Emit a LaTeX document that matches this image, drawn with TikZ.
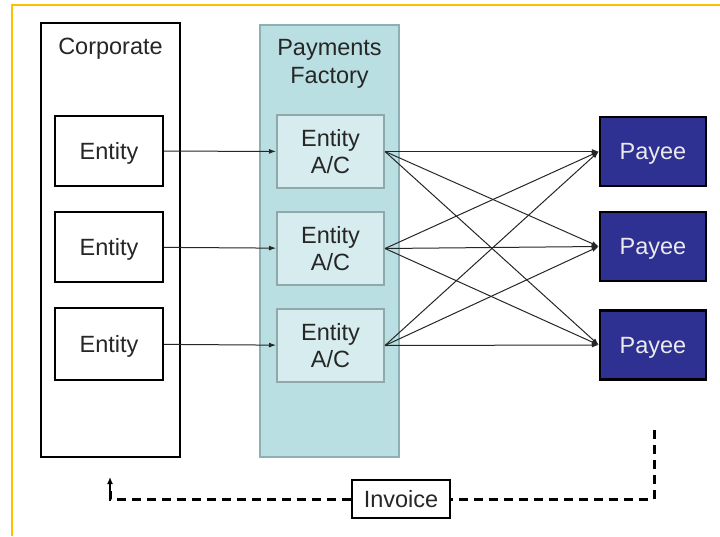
\documentclass[tikz,border=0pt]{standalone}
\usepackage{fontspec}
\setmainfont{Liberation Sans}
\usetikzlibrary{arrows.meta,positioning}
\definecolor{frameorange}{HTML}{FFC000}
\definecolor{pffill}{HTML}{BADFE3}
\definecolor{pfdraw}{HTML}{8EB0B4}
\definecolor{acfill}{HTML}{D6ECEF}
\definecolor{acdraw}{HTML}{8FA9AB}
\definecolor{payeeblue}{HTML}{2E3192}
\tikzset{
  txt/.style={font=\fontsize{23.5}{27}\selectfont, text=black!85, align=center, text depth=0pt},
  outerbox/.style={draw=black, line width=2pt, inner sep=0pt},
  entitybox/.style={draw=black, line width=2pt, fill=white, minimum width=108pt, minimum height=70pt, inner sep=0pt, txt},
  acbox/.style={draw=acdraw, line width=2pt, fill=acfill, minimum width=107pt, minimum height=73pt, inner sep=0pt, txt},
  payeebox/.style={draw=black, line width=2.5pt, fill=payeeblue, minimum width=106pt, minimum height=69pt, inner sep=0pt, txt, text=white!92!black},
  flow/.style={-{Latex[length=7pt,width=5pt]}, line width=1pt, draw=black!85},
  dashflow/.style={dashed, dash pattern=on 9pt off 6pt, line width=3pt},
}
\begin{document}
\begin{tikzpicture}[x=1pt,y=-1pt]
\useasboundingbox (0,0) rectangle (720,536);
% orange frame (open to right and bottom)
\draw[frameorange, line width=2pt] (720,5) -- (12,5) -- (12,536);
% Corporate
\node[outerbox, fill=white, minimum width=139pt, minimum height=434pt] (corp) at (110.5,240) {};
\node[txt, anchor=center] (corpt) at (110.5,46) {Corporate};
% Payments Factory
\node[draw=pfdraw, line width=2pt, fill=pffill, minimum width=139pt, minimum height=432pt, inner sep=0pt] (pf) at (329.5,241) {};
\node[txt, font=\fontsize{23.5}{28}\selectfont] (pft) at (329.5,61) {Payments\\Factory};
% Entities
\node[entitybox] (e1) at (109,151) {Entity};
\node[entitybox] (e2) at (109,247) {Entity};
\node[entitybox, minimum height=72pt] (e3) at (109,344) {Entity};
% Accounts
\node[acbox] (a1) at (330.5,151.5) {Entity\\A/C};
\node[acbox] (a2) at (330.5,248.5) {Entity\\A/C};
\node[acbox] (a3) at (330.5,345.5) {Entity\\A/C};
% Payees
\node[payeebox] (p1) at (653,151.5) {Payee};
\node[payeebox] (p2) at (653,246.5) {Payee};
\node[payeebox] (p3) at (653,345) {Payee};
% Entity -> A/C
\draw[flow] (e1) -- (a1);
\draw[flow] (e2) -- (a2);
\draw[flow] (e3) -- (a3);
% A/C -> Payee (all combinations)
\foreach \a in {a1,a2,a3}{
  \foreach \p in {p1,p2,p3}{
    \draw[flow] (\a.east) -- (\p.west);
  }
}
% Invoice loop
\node[draw=black, line width=2pt, fill=white, minimum width=98pt, minimum height=38pt, inner sep=0pt, txt] (inv) at (401,499) {Invoice};
\coordinate (dstart) at (654,430);
\coordinate (dend) at (110,477);
\draw[dashflow] (dstart) |- (inv.east);
\draw[dashflow] (inv.west) -| ([yshift=-9pt]dend);
\draw[-{Latex[length=7pt,width=6pt]}, line width=2.4pt] ([yshift=-14pt]dend) -- (dend);
\end{tikzpicture}
\end{document}
